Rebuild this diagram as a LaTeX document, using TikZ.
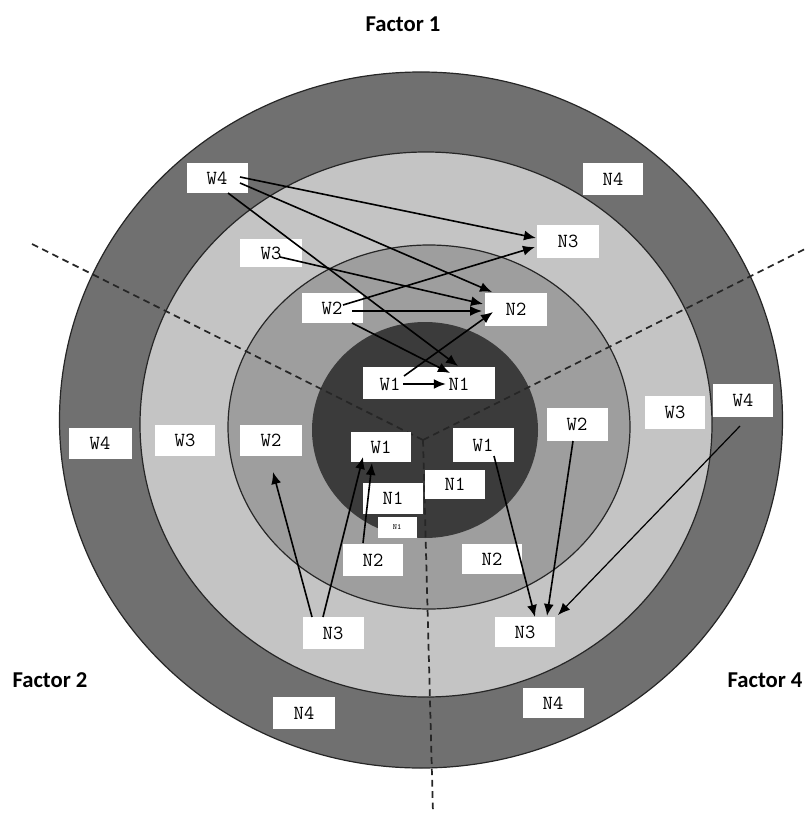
\documentclass[tikz,border=0pt]{standalone}
\usepackage{fontspec}
\newfontfamily\facfont{Carlito}
\usetikzlibrary{arrows.meta}
\definecolor{ringD}{gray}{0.44}
\definecolor{ringC}{gray}{0.77}
\definecolor{ringB}{gray}{0.62}
\definecolor{ringA}{gray}{0.23}
\tikzset{
  ringline/.style={draw=black!85, line width=0.9pt},
  dashline/.style={black!85, line width=1.3pt, dash pattern=on 5pt off 3.5pt},
  bx/.style 2 args={fill=white, minimum width=#1*0.75pt, minimum height=#2*0.75pt, inner sep=0pt, font=\ttfamily\fontsize{15}{15}\selectfont},
  txt/.style={inner sep=0pt, font=\ttfamily\fontsize{15}{15}\selectfont},
  arr/.style={line width=1.2pt, -{Latex[length=9pt,width=7.5pt]}},
  factor/.style={font=\facfont\bfseries\fontsize{17}{17}\selectfont}
}
\begin{document}
\begin{tikzpicture}[x=0.75pt,y=-0.75pt]
\useasboundingbox (0,0) rectangle (805,813);
% rings
\draw[ringline, fill=ringD] (421,420) ellipse [x radius=361.5, y radius=348];
\draw[ringline, fill=ringC] (426,424.5) ellipse [x radius=286, y radius=272.5];
\draw[ringline, fill=ringB] (429,427) ellipse [x radius=201, y radius=182];
\fill[ringA] (425,430) ellipse [x radius=113, y radius=108];
% dashed dividers
\coordinate (V) at (423,440);
\coordinate (DL) at (32,244);
\coordinate (DR) at (805,249);
\coordinate (DB) at (433,813);
\draw[dashline] (V) -- (DL);
\draw[dashline] (V) -- (DR);
\draw[dashline] (V) -- (DB);
% factor labels
\node[factor] (f1) at (403,24) {Factor 1};
\node[factor] (f2) at (50,680) {Factor 2};
\node[factor] (f4) at (765,680) {Factor 4};
% boxes
\node[bx={61}{30}] (W4a) at (217,178) {W4};
\node[bx={60}{32}] (N4a) at (613,179) {N4};
\node[bx={62}{33}] (N3a) at (568,241) {N3};
\node[bx={62}{28}] (W3a) at (271,253) {W3};
\node[bx={61}{30}] (W2a) at (332,308) {W2};
\node[bx={62}{33}] (N2a) at (516,309) {N2};
\node[bx={132}{32}] (big) at (429,383) {};
\node[txt] (w1big) at (390,384) {W1};
\node[txt] (n1big) at (459,384) {N1};
\node[bx={63}{31}] (W4b) at (100,443) {W4};
\node[bx={60}{31}] (W3b) at (185,440) {W3};
\node[bx={62}{31}] (W2b) at (271,440) {W2};
\node[bx={60}{30}] (W1b) at (381,447) {W1};
\node[bx={61}{34}] (W1c) at (483,445) {W1};
\node[bx={61}{33}] (W2c) at (577,424) {W2};
\node[bx={60}{33}] (W3c) at (675,412) {W3};
\node[bx={60}{33}] (W4c) at (743,400) {W4};
\node[bx={60}{29}] (N1c) at (455,484) {N1};
\node[bx={60}{31}] (N1b) at (393,498) {N1};
\node[bx={39}{21}, font=\ttfamily\fontsize{6}{6}\selectfont] (N1t) at (397,527) {N1};
\node[bx={60}{32}] (N2b) at (373,560) {N2};
\node[bx={60}{30}] (N2c) at (492,559) {N2};
\node[bx={61}{32}] (N3b) at (333,633) {N3};
\node[bx={60}{30}] (N3c) at (525,632) {N3};
\node[bx={62}{32}] (N4b) at (304,713) {N4};
\node[bx={61}{30}] (N4c) at (553,703) {N4};
% arrow end points
\coordinate (a1s) at (240,177);  \coordinate (a1e) at (536,238);
\coordinate (a2s) at (240,183);  \coordinate (a2e) at (492,292);
\coordinate (a3s) at (228,193);  \coordinate (a3e) at (458,366);
\coordinate (a4s) at (280,257);  \coordinate (a4e) at (483,304);
\coordinate (a5s) at (343,305);  \coordinate (a5e) at (535,247);
\coordinate (a6s) at (352,311);  \coordinate (a6e) at (482,311);
\coordinate (a7s) at (352,323);  \coordinate (a7e) at (450,373);
\coordinate (a8s) at (404,376);  \coordinate (a8e) at (493,312);
\coordinate (a10s) at (312,617); \coordinate (a10e) at (273,472);
\coordinate (a11s) at (323,617); \coordinate (a11e) at (363,457);
\coordinate (a12s) at (363,543); \coordinate (a12e) at (372,463);
\coordinate (a13s) at (494,456); \coordinate (a13e) at (535,617);
\coordinate (a14s) at (573,441); \coordinate (a14e) at (547,616);
\coordinate (a15s) at (740,426); \coordinate (a15e) at (558,615);
% arrows
\draw[arr] (a1s) -- (a1e);
\draw[arr] (a2s) -- (a2e);
\draw[arr] (a3s) -- (a3e);
\draw[arr] (a4s) -- (a4e);
\draw[arr] (a5s) -- (a5e);
\draw[arr] (a6s) -- (a6e);
\draw[arr] (a7s) -- (a7e);
\draw[arr] (a8s) -- (a8e);
\draw[arr] ([xshift=2]w1big.east) -- ([xshift=-2]n1big.west);
\draw[arr] (a10s) -- (a10e);
\draw[arr] (a11s) -- (a11e);
\draw[arr] (a12s) -- (a12e);
\draw[arr] (a13s) -- (a13e);
\draw[arr] (a14s) -- (a14e);
\draw[arr, line width=0.9pt] (a15s) -- (a15e);
\end{tikzpicture}
\end{document}
